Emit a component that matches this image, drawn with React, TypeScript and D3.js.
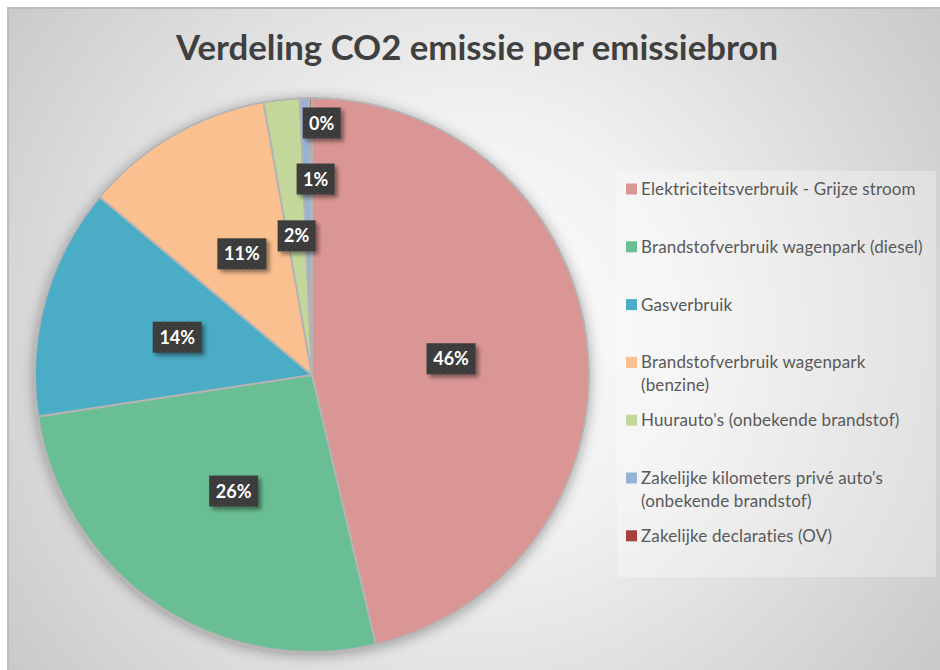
import React from "react";
import * as d3 from "d3";

const title = "Verdeling CO2 emissie per emissiebron";
const categories = [
  "Elektriciteitsverbruik - Grijze stroom",
  "Brandstofverbruik wagenpark (diesel)",
  "Gasverbruik",
  "Brandstofverbruik wagenpark\n(benzine)",
  "Huurauto's (onbekende brandstof)",
  "Zakelijke kilometers privé auto's\n(onbekende brandstof)",
  "Zakelijke declaraties (OV)",
];
const values = [46.3, 26.3, 13.5, 11.1, 2.1, 0.55, 0.15];
const colors = ["#DA9694", "#6BBE93", "#4BACC6", "#FAC090", "#C4D79B", "#95B3D7", "#A5403D"];

const W = 940;
const H = 670;
const cx = 312;
const cy = 375;
const R = 277;
const labelR = 140;

export default function App() {
  const total = d3.sum(values);
  const pie = d3.pie<number>().sort(null).value((d) => d)(values);
  const arc = d3.arc<d3.PieArcDatum<number>>().innerRadius(0).outerRadius(R);
  const labelArc = d3.arc<d3.PieArcDatum<number>>().innerRadius(labelR).outerRadius(labelR);
  const outerArc = d3.arc<d3.PieArcDatum<number>>().innerRadius(R).outerRadius(R);

  type Lab = { x: number; y: number; w: number; h: number; text: string };
  const labels: Lab[] = [];
  const boxH = 31;
  const step = 56;
  pie.forEach((p) => {
    const text = Math.round((p.value / total) * 100) + "%";
    const w = text.length * 11 + 16;
    let [x, y] = labelArc.centroid(p);
    const overlaps = (a: Lab) =>
      labels.some((b) => Math.abs(a.x - b.x) < (a.w + b.w) / 2 && Math.abs(a.y - b.y) < (a.h + b.h) / 2);
    let cand: Lab = { x, y, w, h: boxH, text };
    if (overlaps(cand)) {
      const ox = outerArc.centroid(p)[0];
      x = ox + w / 2 - 8;
      let yy = y;
      cand = { x, y: yy, w, h: boxH, text };
      while (overlaps(cand)) {
        yy -= step;
        cand = { x, y: yy, w, h: boxH, text };
      }
    }
    labels.push(cand);
  });

  const legendX = 617;
  const legendY = 171;
  const legendW = 319;
  const legendH = 406;
  const itemStep = 57.8;
  const firstY = 189;

  return (
    <svg width={W} height={H} style={{ position: "absolute", left: 0, top: 0 }} xmlns="http://www.w3.org/2000/svg">
      <defs>
        <radialGradient id="bg" cx="470" cy="330" r="620" gradientUnits="userSpaceOnUse">
          <stop offset="0" stopColor="#ffffff" />
          <stop offset="0.35" stopColor="#f1f1f1" />
          <stop offset="1" stopColor="#c4c4c4" />
        </radialGradient>
        <filter id="pieShadow" x="-20%" y="-20%" width="140%" height="140%">
          <feGaussianBlur in="SourceAlpha" stdDeviation="7" />
          <feOffset dx="0" dy="2" result="b" />
          <feComponentTransfer>
            <feFuncA type="linear" slope="0.35" />
          </feComponentTransfer>
          <feMerge>
            <feMergeNode />
            <feMergeNode in="SourceGraphic" />
          </feMerge>
        </filter>
        <filter id="boxShadow" x="-30%" y="-30%" width="160%" height="160%">
          <feGaussianBlur in="SourceAlpha" stdDeviation="2" />
          <feOffset dx="3" dy="3" />
          <feComponentTransfer>
            <feFuncA type="linear" slope="0.45" />
          </feComponentTransfer>
          <feMerge>
            <feMergeNode />
            <feMergeNode in="SourceGraphic" />
          </feMerge>
        </filter>
        <pattern id="dots" width="6" height="6" patternUnits="userSpaceOnUse">
          <rect width="6" height="6" fill="#3b3b3b" />
          <rect x="1" y="1" width="1.5" height="1.5" fill="#4a4a4a" />
          <rect x="4" y="4" width="1.5" height="1.5" fill="#444" />
        </pattern>
      </defs>
      <rect x={0} y={0} width={W} height={H} fill="#ffffff" />
      <rect x={8} y={8} width={W + 20} height={H + 20} fill="url(#bg)" stroke="#bdbdbd" strokeWidth={2} />

      <text
        x={477}
        y={60}
        textAnchor="middle"
        fontFamily="Lato, 'Open Sans', sans-serif"
        fontWeight={700}
        fontSize={34}
        fill="#404040"
        textLength={602}
        lengthAdjust="spacingAndGlyphs"
      >
        {title}
      </text>

      <g transform={`translate(${cx},${cy})`} filter="url(#pieShadow)">
        {pie.map((p, i) => (
          <path key={i} d={arc(p) || ""} fill={colors[i]} stroke="#b4b4b4" strokeWidth={2} strokeLinejoin="round" />
        ))}
      </g>

      <g transform={`translate(${cx},${cy})`}>
        {labels.map((l, i) => (
          <g key={i} transform={`translate(${l.x},${l.y})`}>
            <rect x={-l.w / 2} y={-l.h / 2} width={l.w} height={l.h} fill="url(#dots)" filter="url(#boxShadow)" />
            <text
              x={0}
              y={6.5}
              textAnchor="middle"
              fontFamily="Lato, 'Open Sans', sans-serif"
              fontWeight={700}
              fontSize={18}
              fill="#ffffff"
            >
              {l.text}
            </text>
          </g>
        ))}
      </g>

      <rect x={legendX} y={legendY} width={legendW} height={legendH} fill="#ffffff" fillOpacity={0.3} />
      {categories.map((c, i) => {
        const y = firstY + i * itemStep;
        const lines = c.split("\n");
        return (
          <g key={i}>
            <rect x={626} y={y - 5.5} width={11} height={11} fill={colors[i]} />
            <text fontFamily="Lato, 'Open Sans', sans-serif" fontSize={17} letterSpacing={0.15} fill="#595959">
              {lines.map((ln, j) => (
                <tspan key={j} x={641} y={y + 6 + j * 23}>
                  {ln}
                </tspan>
              ))}
            </text>
          </g>
        );
      })}
    </svg>
  );
}
